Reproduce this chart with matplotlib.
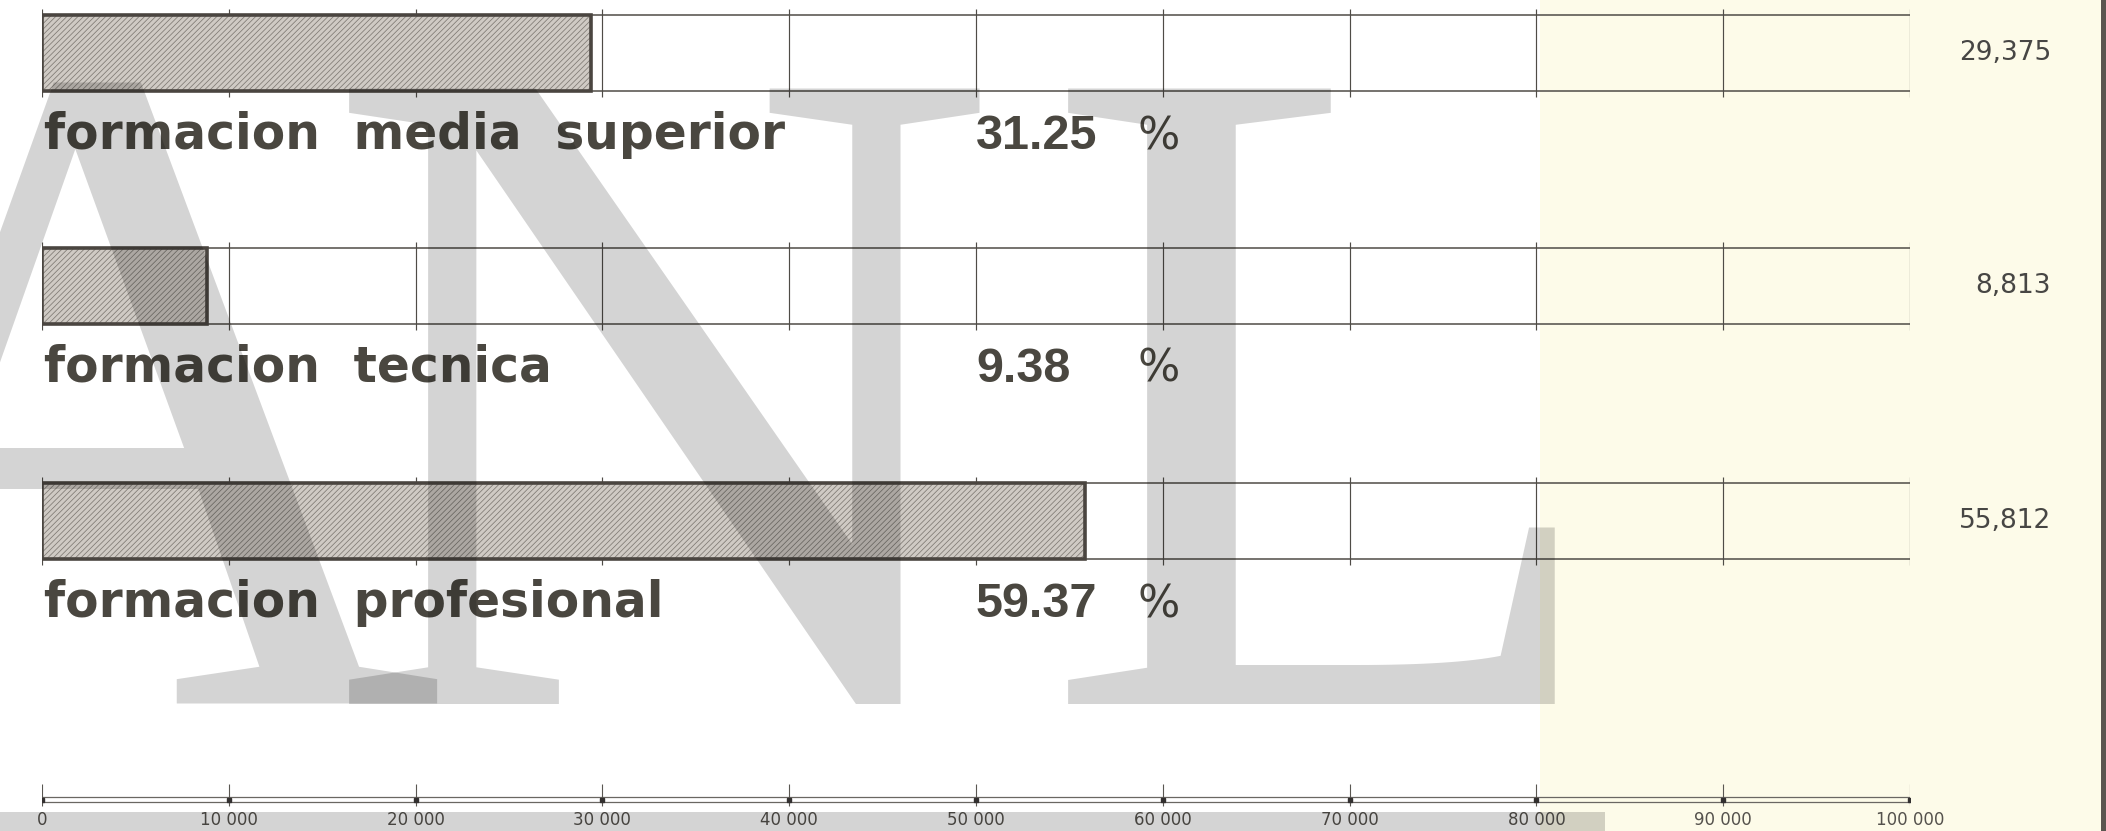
import matplotlib
matplotlib.use("Agg")
import matplotlib.pyplot as plt
from matplotlib.patches import Rectangle

# ---- data ----
categories = ["formacion  media  superior", "formacion  tecnica", "formacion  profesional"]
values = [29375, 8813, 55812]
percents = [31.25, 9.38, 59.37]
scale_ticks = [0, 10000, 20000, 30000, 40000, 50000, 60000, 70000, 80000, 90000, 100000]
scale_labels = ["0", "10 000", "20 000", "30 000", "40 000", "50 000",
                "60 000", "70 000", "80 000", "90 000", "100 000"]

# ---- layout (pixels) ----
W, H = 2106, 831
X0, X1 = 42, 1910
row_top = [15, 248, 483]
row_h = 76

plt.rcParams['hatch.linewidth'] = 0.55
fig = plt.figure(figsize=(W / 100, H / 100), dpi=100)
fig.patch.set_facecolor('white')

# paper tint on the right and the sheet edge
fig.add_artist(Rectangle((1540 / W, 0), (W - 1540) / W, 1, transform=fig.transFigure,
                         facecolor='#fdfbe9', edgecolor='none', zorder=-2))
fig.add_artist(Rectangle((2101 / W, 0), 5 / W, 1, transform=fig.transFigure,
                         facecolor='#5b564f', edgecolor='none', zorder=-1))

ax = fig.add_axes([X0 / W, 0, (X1 - X0) / W, 1])
ax.set_xlim(0, 100000)
ax.set_ylim(H, 0)
ax.axis('off')
ax.patch.set_alpha(0)

line_c = '#4f4c47'
text_c = '#4a4740'

for i, (cat, v, p) in enumerate(zip(categories, values, percents)):
    top = row_top[i]
    bot = top + row_h
    ctr = top + row_h / 2
    # frame of the row
    ax.hlines([top, bot], -250, 100300, color=line_c, lw=1.1, zorder=2)
    ax.vlines(scale_ticks, top - 6, bot + 6, color=line_c, lw=0.85, zorder=2)
    # bar
    ax.barh(ctr, v, height=row_h, left=0, facecolor='#cfcac4', edgecolor='#7e7973',
            hatch='//////', lw=0, zorder=3)
    ax.barh(ctr, v, height=row_h, left=0, fill=False, edgecolor='#4a4540', lw=2.6, zorder=4)
    # category label
    base = bot + 58
    fig.text(44 / W, 1 - base / H, cat, family='DejaVu Sans', fontweight='bold',
             fontsize=35, color=text_c, ha='left', va='baseline')
    # percentage
    fig.text(976 / W, 1 - base / H, f"{p:.2f}", family='Liberation Sans', fontweight='bold',
             fontsize=35, color=text_c, ha='left', va='baseline')
    fig.text(1137 / W, 1 - base / H, "%", family='Liberation Sans Narrow',
             fontsize=32, color=text_c, ha='left', va='baseline')
    # absolute value on the right
    fig.text(2051 / W, 1 - ctr / H, f"{v:,}", family='DejaVu Sans', fontsize=19,
             color='#474644', ha='right', va='center')

# ---- scale at bottom ----
ax.hlines([797, 802], 0, 100000, color='#6a6762', lw=0.9, zorder=2)
ax.vlines(scale_ticks, 784, 806, color='#5a5752', lw=0.8, zorder=2)
ax.plot(scale_ticks, [799.5] * len(scale_ticks), 's', ms=3.5, color='#333030', zorder=3)
for t, lab in zip(scale_ticks, scale_labels):
    ax.text(t, 811, lab, ha='center', va='top', fontsize=12, color='#55524d', zorder=3)

# ---- watermark (black with low alpha acts like a multiply tint) ----
wm = dict(family='Liberation Serif', fontsize=677, color='black', alpha=0.17,
          va='baseline', ha='left', zorder=10)
fig.text(-235 / W, 1 - 704 / H, "A", **wm)
fig.text(322 / W, 1 - 704 / H, "N", **wm)
fig.text(1041 / W, 1 - 704 / H, "L", **wm)
fig.add_artist(Rectangle((0, 0), 1605 / W, 19 / H, transform=fig.transFigure,
                         facecolor='black', alpha=0.17, edgecolor='none', zorder=10))

fig.savefig("out.png", dpi=100)
